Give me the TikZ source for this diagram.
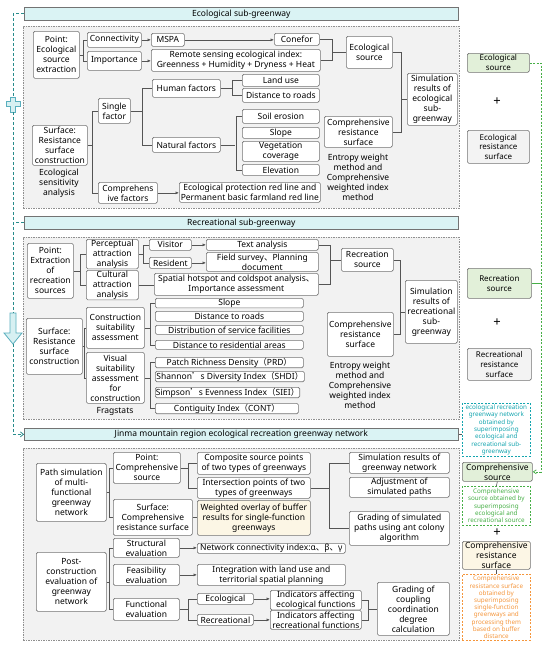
\documentclass[tikz,border=0pt]{standalone}
\usepackage{fontspec}
\setmainfont{Noto Sans}
\newfontfamily\cjk{Noto Sans CJK SC}
\usetikzlibrary{arrows.meta}
\definecolor{hdrfill}{RGB}{218,243,244}
\definecolor{secfill}{RGB}{242,242,242}
\definecolor{bord}{RGB}{115,115,115}
\definecolor{conn}{RGB}{85,85,85}
\definecolor{grnfill}{RGB}{226,240,217}
\definecolor{creamfill}{RGB}{252,246,229}
\definecolor{lgfill}{RGB}{243,243,243}
\definecolor{tealc}{RGB}{20,165,175}
\definecolor{greenc}{RGB}{70,175,70}
\definecolor{orangec}{RGB}{245,150,60}
\definecolor{darkteal}{RGB}{40,140,140}
\definecolor{iconfill}{RGB}{215,240,242}
\definecolor{iconline}{RGB}{90,175,190}
\newcommand{\Bx}[7]{\node[#6,anchor=north west,minimum width={(#4-#2)*1pt},minimum height={(#5-#3)*1pt}] (#1) at (#2,#3) {#7};}
\begin{document}
\begin{tikzpicture}[x=1pt,y=-1pt,
  font=\fontsize{8.5}{10}\selectfont,
  bx/.style={draw=bord,fill=white,line width=0.7pt,rounded corners=1.5pt,inner sep=0.5pt,align=center},
  grn/.style={bx,fill=grnfill},
  lg/.style={bx,fill=lgfill},
  crm/.style={bx,fill=creamfill},
  hdr/.style={draw=bord,fill=hdrfill,line width=0.7pt,inner sep=0pt},
  sec/.style={draw=bord!80,fill=secfill,line width=0.6pt,dash pattern=on 1.5pt off 1pt,inner sep=0pt},
  txt/.style={inner sep=0pt,align=center},
  plus/.style={inner sep=0pt,font=\fontsize{13}{13}\selectfont\bfseries},
  note/.style={line width=0.7pt,dash pattern=on 2pt off 1.5pt,inner sep=0pt,align=center,font=\fontsize{6.3}{7.3}\selectfont},
  ln/.style={draw=conn,line width=0.6pt},
  ar/.style={ln,-{Latex[length=3.5pt,width=3pt]}},
  tdash/.style={draw=darkteal,line width=0.8pt,dash pattern=on 3pt off 2pt},
  gdash/.style={draw=greenc,line width=0.7pt,dash pattern=on 2pt off 1.5pt}
]
\useasboundingbox[fill=white] (0,0) rectangle (550,648);

% ===== sections =====
\Bx{secE}{23}{26}{459}{208}{sec}{}
\Bx{secR}{23}{237}{459}{419}{sec}{}
\Bx{secJ}{23}{448}{459}{640}{sec}{}
\Bx{hdrE}{24}{7}{458}{20}{hdr}{Ecological sub-greenway}
\Bx{hdrR}{24}{216}{458}{229}{hdr}{Recreational sub-greenway}
\Bx{hdrJ}{24}{428}{458}{440}{hdr}{Jinma mountain region ecological recreation greenway network}

% ===== ecological =====
\Bx{pE}{33}{31}{79}{78}{bx}{Point:\\Ecological\\source\\extraction}
\Bx{conn}{87}{32}{141}{47}{bx}{Connectivity}
\Bx{imp}{87}{51}{141}{70}{bx}{Importance}
\Bx{mspa}{151}{33}{184}{46}{bx}{MSPA}
\Bx{conefor}{274}{33}{319}{45}{bx}{Conefor}
\Bx{rs}{151}{49}{320}{71}{bx}{Remote sensing ecological index:\\Greenness + Humidity + Dryness + Heat}
\Bx{ecoS}{346}{36}{392}{68}{bx}{Ecological\\source}
\Bx{simE}{407}{73}{457}{125}{bx}{Simulation\\results of\\ecological\\sub-\\greenway}
\Bx{crsE}{324}{116}{392}{147}{bx}{Comprehensive\\resistance\\surface}
\node[txt] (entE) at (358,177) {Entropy weight\\method and\\Comprehensive\\weighted index\\method};
\Bx{single}{98}{98}{130}{123}{bx}{Single\\factor}
\Bx{surfE}{32}{125}{87}{165}{bx}{Surface:\\Resistance\\surface\\construction}
\node[txt] (sens) at (59,183) {Ecological\\sensitivity\\analysis};
\Bx{compF}{98}{182}{157}{203}{bx}{Comprehens\\ive factors}
\Bx{redline}{179}{182}{320}{202}{bx}{Ecological protection red line and\\Permanent basic farmland red line}
\Bx{human}{152}{79}{220}{97}{bx}{Human factors}
\Bx{natural}{152}{137}{220}{152}{bx}{Natural factors}
\Bx{landuse}{242}{74}{319}{86}{bx}{Land use}
\Bx{droads}{242}{88}{319}{102}{bx}{Distance to roads}
\Bx{soil}{242}{109}{319}{123}{bx}{Soil erosion}
\Bx{slopeE}{242}{127}{319}{138}{bx}{Slope}
\Bx{veg}{242}{141}{319}{161}{bx}{Vegetation\\coverage}
\Bx{elev}{242}{164}{319}{175}{bx}{Elevation}

\draw[ln] (pE.east) -- ++(4,0);
\draw[ln] (conn.west) -- ++(-4,0) |- (imp.west);
\draw[ar] (conn.east) -- (conn.east -| mspa.west);
\draw[ar] (mspa.east) -- (mspa.east -| conefor.west);
\draw[ar] (imp.east) -- (imp.east -| rs.west);
\draw[ln] (conefor.east) -- ++(13,0) |- (ecoS.west);
\draw[ln] (rs.east) -- ++(12,0) |- (ecoS.west);
\draw[ln] (ecoS.east) -- ++(9,0) |- (crsE.east);
\draw[ln] (simE.west) -- ++(-6,0);
\draw[ln] (surfE.east) -- ++(5,0);
\draw[ln] (single.west) -- ++(-6,0) |- (compF.west);
\draw[ln] (single.east) -- ++(12,0);
\draw[ln] (human.west) -- ++(-10,0) |- (natural.west);
\draw[ln] (human.east) -- ++(12,0);
\draw[ln] (landuse.west) -- ++(-10,0) |- (droads.west);
\draw[ln] (natural.east) -- ++(14,0);
\draw[ln] (soil.west) -- ++(-6,0) |- (elev.west);
\draw[ar] (compF.east) -- (compF.east -| redline.west);

% ===== recreational =====
\Bx{pR}{27}{243}{73}{298}{bx}{Point:\\Extraction\\of\\recreation\\sources}
\Bx{perc}{86}{239}{138}{267}{bx}{Perceptual\\attraction\\analysis}
\Bx{cult}{86}{270}{138}{297}{bx}{Cultural\\attraction\\analysis}
\Bx{visitor}{149}{239}{191}{250}{bx}{Visitor}
\Bx{resident}{149}{257}{191}{268}{bx}{Resident}
\Bx{textA}{206}{239}{318}{250}{bx}{Text analysis}
\Bx{field}{206}{252}{318}{271}{bx}{Field survey{\cjk 、}Planning\\document}
\Bx{spatial}{154}{273}{318}{295}{bx}{Spatial hotspot and coldspot analysis{\cjk 、}\\Importance assessment}
\Bx{recS}{341}{248}{393}{271}{bx}{Recreation\\source}
\Bx{simR}{405}{280}{457}{343}{bx}{Simulation\\results of\\recreational\\sub-\\greenway}
\Bx{crsR}{327}{312}{393}{356}{bx}{Comprehensive\\resistance\\surface}
\node[txt] (entR) at (360,385) {Entropy weight\\method and\\Comprehensive\\weighted index\\method};
\Bx{surfR}{26}{318}{82}{374}{bx}{Surface:\\Resistance\\surface\\construction}
\Bx{constr}{86}{307}{144}{348}{bx}{Construction\\suitability\\assessment}
\Bx{visual}{86}{352}{144}{403}{bx}{Visual\\suitability\\assessment\\for\\construction}
\node[txt] (frag) at (115,411) {Fragstats};
\Bx{slopeR}{155}{298}{303}{307}{bx}{Slope}
\Bx{droadsR}{155}{311}{303}{321}{bx}{Distance to roads}
\Bx{service}{155}{325}{303}{334}{bx}{Distribution of service facilities}
\Bx{resid}{155}{340}{303}{349}{bx}{Distance to residential areas}
\Bx{prd}{155}{357}{303}{366}{bx}{Patch Richness Density{\cjk （}PRD{\cjk ）}}
\Bx{shdi}{155}{371}{304}{381}{bx}{Shannon{\cjk ’}s Diversity Index{\cjk （}SHDI{\cjk ）}}
\Bx{siei}{155}{387}{298}{397}{bx}{Simpson{\cjk ’}s Evenness Index{\cjk （}SIEI{\cjk ）}}
\Bx{cont}{155}{403}{298}{412}{bx}{Contiguity Index{\cjk （}CONT{\cjk ）}}

\draw[ln] (pR.east) -- ++(7,0);
\draw[ln] (perc.west) -- ++(-6,0) |- (cult.west);
\draw[ln] (perc.east) -- ++(5,0);
\draw[ln] (visitor.west) -- ++(-6,0) |- (resident.west);
\draw[ar] (visitor.east) -- (visitor.east -| textA.west);
\draw[ar] (resident.east) -- (resident.east -| field.west);
\draw[ln] (cult.east) -- (cult.east -| spatial.west);
\draw[ln] (textA.east) -- ++(12,0) |- (spatial.east);
\draw[ln] (recS.west) -- ++(-11,0);
\draw[ln] (recS.east) -- ++(7,0) |- (crsR.east);
\draw[ln] (simR.west) -- ++(-5,0);
\draw[ln] (surfR.east) -- ++(2,0);
\draw[ln] (constr.west) -- ++(-2,0) |- (visual.west);
\draw[ln] (constr.east) -- ++(6,0);
\draw[ln] (slopeR.west) -- ++(-5,0) |- (resid.west);
\draw[ln] (visual.east) -- ++(6,0);
\draw[ln] (prd.west) -- ++(-5,0) |- (cont.west);

% ===== Jinma =====
\Bx{path}{36}{463}{106}{521}{bx}{Path simulation\\of multi-\\functional\\greenway\\network}
\Bx{pC}{113}{452}{180}{483}{bx}{Point:\\Comprehensive\\source}
\Bx{sC}{113}{499}{192}{535}{bx}{Surface:\\Comprehensive\\resistance surface}
\Bx{composite}{197}{452}{310}{474}{bx}{Composite source points\\of two types of greenways}
\Bx{intersect}{197}{477}{310}{498}{bx}{Intersection points of two\\types of greenways}
\Bx{weighted}{197}{500}{310}{535}{crm}{Weighted overlay of buffer\\results for single-function\\greenways}
\Bx{simG}{349}{452}{449}{473}{bx}{Simulation results of\\greenway network}
\Bx{adj}{349}{477}{449}{497}{bx}{Adjustment of\\simulated paths}
\Bx{gradA}{349}{511}{449}{545}{bx}{Grading of simulated\\paths using ant colony\\algorithm}
\Bx{post}{36}{552}{106}{611}{bx}{Post-\\construction\\evaluation of\\greenway\\network}
\Bx{struct}{113}{538}{179}{557}{bx}{Structural\\evaluation}
\Bx{feas}{113}{564}{179}{585}{bx}{Feasibility\\evaluation}
\Bx{func}{113}{598}{179}{620}{bx}{Functional\\evaluation}
\Bx{netc}{197}{543}{345}{553}{bx}{Network connectivity index:α{\cjk 、}β{\cjk 、}γ}
\Bx{integ}{197}{564}{345}{585}{bx}{Integration with land use and\\territorial spatial planning}
\Bx{ecoF}{197}{593}{253}{604}{bx}{Ecological}
\Bx{recF}{197}{614}{253}{625}{bx}{Recreational}
\Bx{indE}{270}{590}{361}{607}{bx}{Indicators affecting\\ecological functions}
\Bx{indR}{270}{610}{361}{629}{bx}{Indicators affecting\\recreational functions}
\Bx{gradC}{377}{582}{449}{635}{bx}{Grading of\\coupling\\coordination\\degree\\calculation}

\draw[ln] (path.east) -- ++(3,0);
\draw[ln] (pC.west) -- ++(-4,0) |- (sC.west);
\draw[ln] (pC.east) -- ++(8,0);
\draw[ln] (composite.west) -- ++(-9,0) |- (intersect.west);
\draw[ln] (sC.east) -- (sC.east -| weighted.west);
\draw[ln] (intersect.east) -- ++(19,0);
\draw[ln] (simG.west) -- ++(-20,0) |- (gradA.west);
\draw[ln] (post.east) -- ++(3,0);
\draw[ln] (struct.west) -- ++(-4,0) |- (func.west);
\draw[ar] (struct.east) -- (struct.east -| netc.west);
\draw[ar] (feas.east) -- (feas.east -| integ.west);
\draw[ln] (func.east) -- ++(9,0);
\draw[ln] (ecoF.west) -- ++(-9,0) |- (recF.west);
\draw[ar] (ecoF.east) -- (ecoF.east -| indE.west);
\draw[ar] (recF.east) -- (recF.east -| indR.west);
\draw[ln] (indE.east) -- ++(7,0) |- (indR.east);
\draw[ln] (gradC.west) -- ++(-9,0);

% ===== right column =====
\begingroup
\tikzset{every node/.append style={font=\fontsize{8}{9.8}\selectfont}}
\Bx{ecoSrc}{467}{53}{529}{72}{grn}{Ecological\\source}
\Bx{ecoRes}{467}{130}{529}{163}{lg}{Ecological\\resistance\\surface}
\Bx{recSrc}{467}{268}{531}{298}{grn}{Recreation\\source}
\Bx{recRes}{467}{348}{531}{380}{lg}{Recreational\\resistance\\surface}
\endgroup
\node[plus] (plus1) at (497,102) {+};
\node[plus] (plus2) at (497,323) {+};
\node[plus] (plus3) at (497,533) {+};
\Bx{tealN}{462}{403}{530}{456}{note,draw=tealc,text=tealc}{ecological recreation\\greenway network\\obtained by\\superimposing\\ecological and\\recreational sub-\\greenway}
\Bx{compSrc}{462}{462}{532}{481}{grn}{Comprehensive\\source}
\Bx{greenN}{462}{486}{530}{525}{note,draw=greenc,text=greenc}{Comprehensive\\source obtained by\\superimposing\\ecological and\\recreational source}
\Bx{compRes}{462}{541}{530}{569}{crm}{Comprehensive\\resistance\\surface}
\Bx{orangeN}{462}{574}{530}{640}{note,draw=orangec,text=orangec,font=\fontsize{6.3}{7.2}\selectfont}{Comprehensive\\resistance surface\\obtained by\\superimposing\\single-function\\greenways and\\processing them\\based on buffer\\distance}

\coordinate (gv) at (541,0);
\draw[gdash,-{Straight Barb[length=3pt,width=4pt]}] (ecoSrc.east) -- (ecoSrc.east -| gv) |- (compSrc.east);
\draw[draw=greenc,line width=0.7pt] (recSrc.east) -- (recSrc.east -| gv);
\draw[ln] (hdrJ.east) -- (hdrJ.east -| tealN.west);
\draw[ln] (compSrc.south) -- (greenN.north);
\draw[ln] (compRes.south) -- (orangeN.north);

% ===== left flow line with icons =====
\coordinate (crossT) at (13,97);
\coordinate (crossB) at (13,112);
\coordinate (arrT) at (13,313);
\coordinate (arrB) at (13,344);
\draw[iconline,fill=iconfill,line width=0.8pt] (10.5,97) -- (15.5,97) -- (15.5,101) -- (20,101) -- (20,106) -- (15.5,106) -- (15.5,112) -- (10.5,112) -- (10.5,106) -- (6,106) -- (6,101) -- (10.5,101) -- cycle;
\draw[iconline,fill=iconfill,line width=0.8pt] (10,313) -- (16,313) -- (16,333) -- (22,333) -- (13,344) -- (4,333) -- (10,333) -- cycle;
\draw[tdash] (hdrE.west) -| (crossT);
\draw[tdash] (crossB) -- (arrT);
\draw[tdash] (hdrR.west) -- (hdrR.west -| crossB);
\draw[tdash,-{Straight Barb[length=3pt,width=5pt]}] (arrB) |- (hdrJ.west);
\end{tikzpicture}
\end{document}
